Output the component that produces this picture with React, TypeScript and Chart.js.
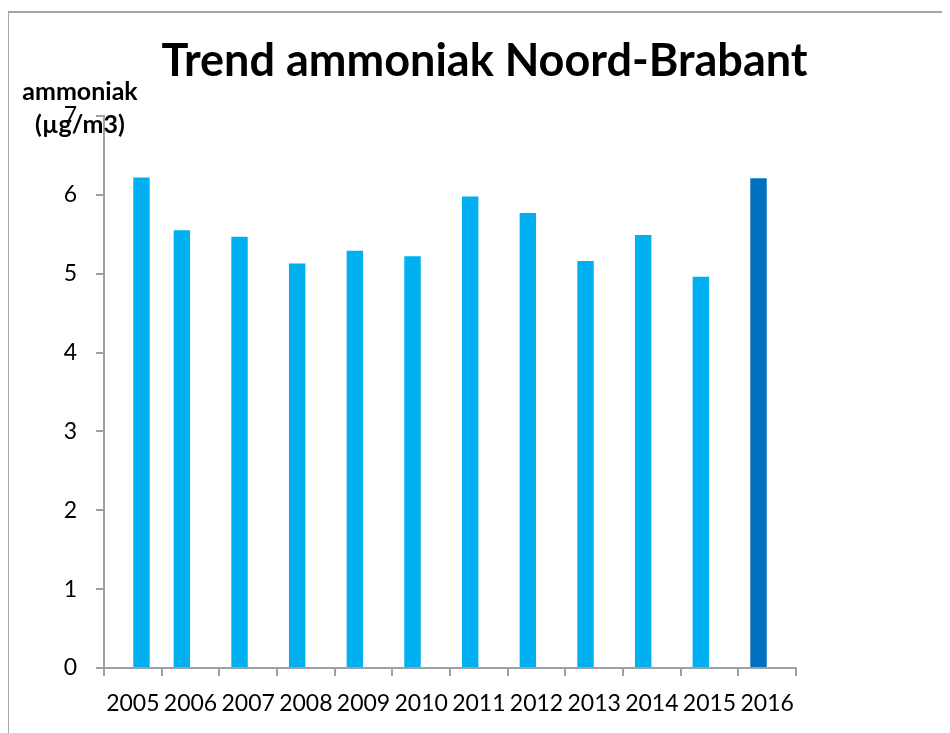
import React, { useEffect, useRef } from "react";
import { Chart, registerables } from "chart.js";

Chart.register(...registerables);

const categories = ["2005", "2006", "2007", "2008", "2009", "2010", "2011", "2012", "2013", "2014", "2015", "2016"];
const seriesLeft: (number | null)[] = [null, 5.55, 5.47, 5.13, 5.29, 5.22, 5.98, 5.77, 5.16, 5.49, 4.96, 6.21];
const seriesRight: (number | null)[] = [6.22, null, null, null, null, null, null, null, null, null, null, null];
const yTicks = [0, 1, 2, 3, 4, 5, 6, 7];
const titleText = "Trend ammoniak Noord-Brabant";
const yTitleLines = ["ammoniak", "(µg/m3)"];

const LIGHT = "#00B0F0";
const DARK = "#0070C0";
const AXIS = "#A0A0A0";
const FONT = "Lato, 'Open Sans', sans-serif";

const leftColors = categories.map((c) => (c === "2016" ? DARK : LIGHT));
const rightColors = categories.map(() => LIGHT);

const textPlugin = {
  id: "texts",
  afterDraw(chart: any) {
    const { ctx, chartArea } = chart;
    ctx.save();
    ctx.fillStyle = "#000";
    ctx.textAlign = "center";
    ctx.textBaseline = "alphabetic";
    ctx.font = `bold 45px ${FONT}`;
    ctx.fillText(titleText, chart.width / 2 + 5, chartArea.top - 40);
    ctx.font = `bold 25px ${FONT}`;
    ctx.textBaseline = "middle";
    ctx.fillText(yTitleLines[0], chartArea.left - 24, chartArea.top - 24);
    ctx.fillText(yTitleLines[1], chartArea.left - 24, chartArea.top + 9);
    ctx.restore();
  },
};

export default function App() {
  const ref = useRef<HTMLCanvasElement | null>(null);
  useEffect(() => {
    document.documentElement.style.overflow = "hidden";
    const chart = new Chart(ref.current as HTMLCanvasElement, {
      type: "bar",
      data: {
        labels: categories,
        datasets: [
          { label: "A", data: seriesLeft, backgroundColor: leftColors, categoryPercentage: 0.6, barPercentage: 0.95 },
          { label: "B", data: seriesRight, backgroundColor: rightColors, categoryPercentage: 0.6, barPercentage: 0.95 },
        ],
      },
      options: {
        animation: false,
        responsive: false,
        maintainAspectRatio: false,
        layout: { padding: { top: 103, right: 154, left: 0, bottom: 0 } },
        plugins: { legend: { display: false }, tooltip: { enabled: false }, title: { display: false } },
        scales: {
          x: {
            grid: { drawOnChartArea: false, offset: true, tickLength: 8, color: AXIS, lineWidth: 2 },
            border: { display: true, color: AXIS, width: 2 },
            ticks: { color: "#000", font: { family: FONT, size: 23 }, padding: 14, maxRotation: 0, autoSkip: false },
            afterFit: (s: any) => { s.height = 65; },
          },
          y: {
            min: 0,
            max: 7,
            afterBuildTicks: (s: any) => { s.ticks = yTicks.map((v) => ({ value: v })); },
            grid: { drawOnChartArea: false, tickLength: 8, color: AXIS, lineWidth: 2 },
            border: { display: true, color: AXIS, width: 2 },
            ticks: { color: "#000", font: { family: FONT, size: 23 }, padding: 19 },
            afterFit: (s: any) => { s.width = 95; },
          },
        },
      },
      plugins: [textPlugin],
    });
    return () => chart.destroy();
  }, []);
  return (
    <div style={{ position: "relative", left: -1, top: 3, width: 960, height: 740, borderTop: "2px solid #A6A6A6", borderLeft: "2px solid #A6A6A6" }}>
      <canvas ref={ref} width={941} height={720} style={{ display: "block" }} />
    </div>
  );
}
